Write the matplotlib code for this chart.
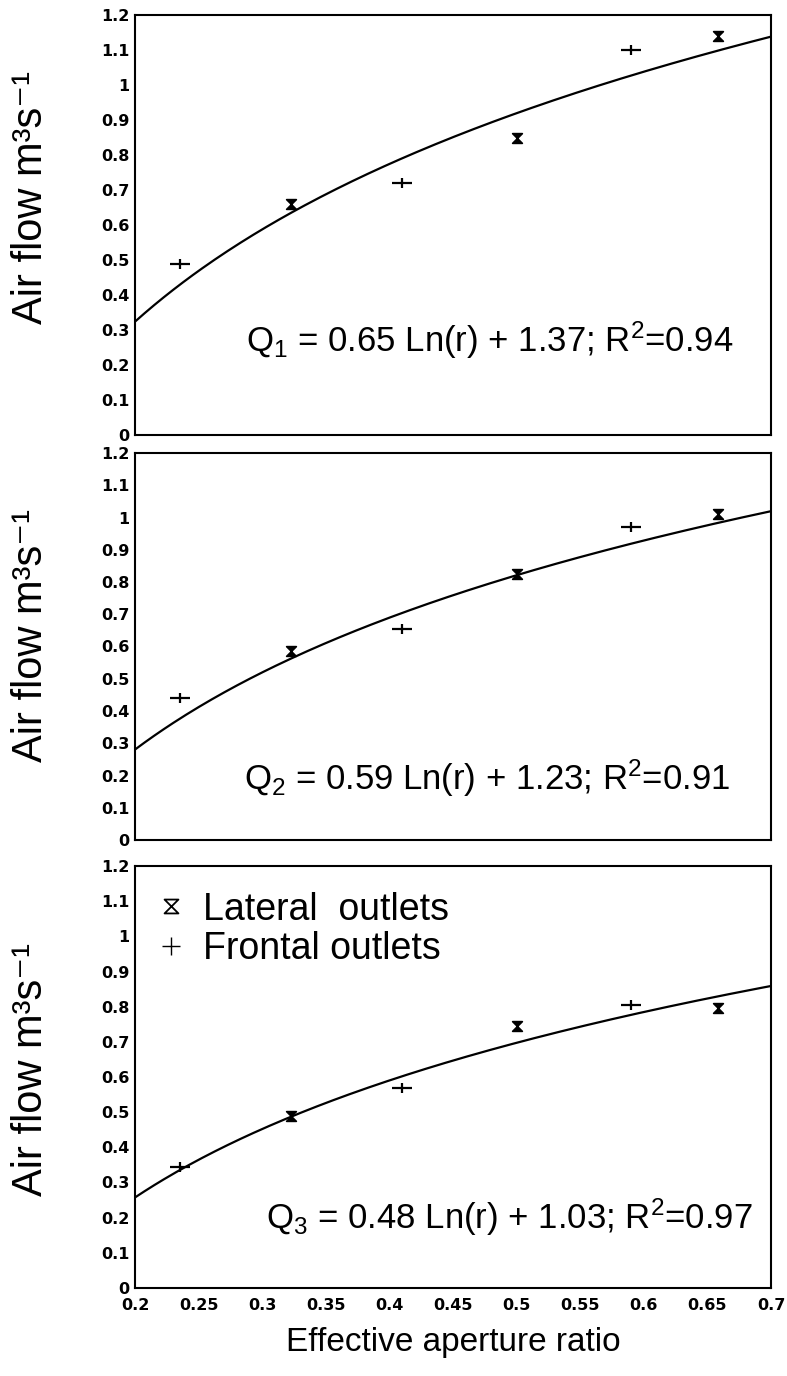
import numpy as np
import matplotlib
matplotlib.use("Agg")
from matplotlib import pyplot as plt
from matplotlib.path import Path
from matplotlib.lines import Line2D

plt.rcParams['font.family'] = ['Liberation Sans', 'DejaVu Sans']
plt.rcParams['mathtext.fontset'] = 'custom'
plt.rcParams['mathtext.rm'] = 'Liberation Sans'
plt.rcParams['mathtext.it'] = 'Liberation Sans'

# aperture ratios of the outlets
x_lateral = [0.323, 0.5, 0.658]
x_frontal = [0.235, 0.41, 0.59]

# measured air flow, one list per panel
lateral = [[0.66, 0.85, 1.14],
           [0.585, 0.825, 1.01],
           [0.49, 0.745, 0.795]]
frontal = [[0.49, 0.72, 1.10],
           [0.44, 0.655, 0.97],
           [0.345, 0.57, 0.805]]

# fitted Q = a Ln(r) + b
coef_a = [0.65, 0.59, 0.48]
coef_b = [1.37, 1.23, 1.03]
r2 = [0.94, 0.91, 0.97]

yticks = [0, 0.1, 0.2, 0.3, 0.4, 0.5, 0.6, 0.7, 0.8, 0.9, 1, 1.1, 1.2]
ytick_labels = ['0', '0.1', '0.2', '0.3', '0.4', '0.5', '0.6', '0.7', '0.8', '0.9', '1', '1.1', '1.2']
xticks = [0.2, 0.25, 0.3, 0.35, 0.4, 0.45, 0.5, 0.55, 0.6, 0.65, 0.7]
xtick_labels = ['0.2', '0.25', '0.3', '0.35', '0.4', '0.45', '0.5', '0.55', '0.6', '0.65', '0.7']

# hourglass marker and flat plus marker
hourglass = Path([(-1, 1), (1, 1), (0, 0), (1, -1), (-1, -1), (0, 0), (-1, 1)],
                 [Path.MOVETO, Path.LINETO, Path.LINETO, Path.LINETO, Path.LINETO, Path.LINETO, Path.CLOSEPOLY])
flatplus = Path([(-1, 0), (1, 0), (0, -0.45), (0, 0.45)],
                [Path.MOVETO, Path.LINETO, Path.MOVETO, Path.LINETO])

fig = plt.figure(figsize=(7.87, 13.76), dpi=100)

W, H = 787.0, 1376.0
left, right = 135, 771
panels = [(15, 435), (453, 840), (866, 1288)]
eq_pos = [(0.479, 0.27), (0.477, 0.19), (0.494, 0.2)]
ylab_y = [197, 635, 1070]

rr = np.linspace(0.2, 0.7, 200)
for i, (top, bot) in enumerate(panels):
    ax = fig.add_axes([left / W, 1 - bot / H, (right - left) / W, (bot - top) / H])
    ax.plot(rr, coef_a[i] * np.log(rr) + coef_b[i], color='k', lw=1.6)
    ax.plot(x_lateral, lateral[i], ls='none', marker=hourglass, ms=7,
            mfc='k', mec='k', mew=1.2)
    ax.plot(x_frontal, frontal[i], ls='none', marker=flatplus, ms=15,
            mec='k', mew=1.6)
    ax.set_xlim(0.2, 0.7)
    ax.set_ylim(0, 1.2)
    ax.set_yticks(yticks)
    ax.set_yticklabels(ytick_labels, fontfamily='DejaVu Sans', fontweight='bold', fontsize=11.5)
    ax.set_xticks(xticks)
    if i == 2:
        ax.set_xticklabels(xtick_labels, fontfamily='DejaVu Sans', fontweight='bold', fontsize=11.5)
    else:
        ax.set_xticklabels([])
    ax.tick_params(axis='y', length=0, pad=4)
    ax.tick_params(axis='x', length=0, pad=7)
    for s in ax.spines.values():
        s.set_linewidth(1.5)
    ax.text(eq_pos[i][0], eq_pos[i][1],
            r'Q$_{\mathregular{%d}}$ = %.2f Ln(r) + %.2f; R$^{\mathregular{2}}$=%.2f' % (i + 1, coef_a[i], coef_b[i], r2[i]),
            fontsize=25, ha='center', va='center')
    fig.text(31 / W, 1 - ylab_y[i] / H, 'Air flow m³s⁻¹',
             rotation=90, fontsize=30, ha='center', va='center')
    if i == 2:
        handles = [Line2D([], [], ls='none', marker=hourglass, ms=10, mfc='none', mec='k', mew=1.3),
                   Line2D([], [], ls='none', marker='+', ms=13, mec='k', mew=1.0)]
        ax.legend(handles, ['Lateral  outlets', 'Frontal outlets'], loc='upper left',
                  frameon=False, fontsize=27, handletextpad=0.2, handlelength=1.3,
                  labelspacing=0.1, borderaxespad=0.0, bbox_to_anchor=(-0.005, 0.975))

fig.text((left + right) / 2 / W, 1 - 1343 / H, 'Effective aperture ratio', fontsize=24,
         ha='center', va='center')

fig.savefig('out.png', dpi=100)
